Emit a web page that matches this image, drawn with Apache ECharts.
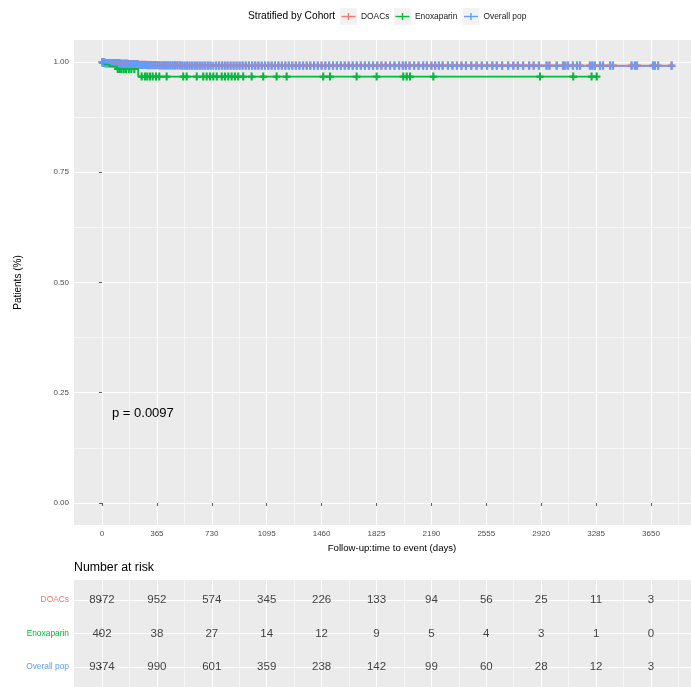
<!DOCTYPE html>
<html>
<head>
<meta charset="utf-8">
<script src="https://cdn.jsdelivr.net/npm/echarts@6/dist/echarts.min.js"></script>
<style>
  html, body { margin: 0; padding: 0; background: #ffffff; }
  #chart { width: 691px; height: 687px; }
</style>
</head>
<body>
<div id="chart"></div>
<script>
// ---- Kaplan–Meier estimates by cohort (time in days, survival proportion) ----
const groups = ['DOACs', 'Enoxaparin', 'Overall pop'];
const groupColors = ['#F8766D', '#00BA38', '#619CFF'];

const doacTime = [0, 5, 20, 60, 120, 180, 240, 300, 380, 520, 900];
const doacSurv = [1, 0.9987, 0.9978, 0.9973, 0.9964, 0.9954, 0.994, 0.9933, 0.9927, 0.9922, 0.9919];
const doacEnd = 3796;

const enoxTime = [0, 15, 50, 100, 241];
const enoxSurv = [1, 0.995, 0.99, 0.9845, 0.967];
const enoxEnd = 3290;

const overallTime = [0, 5, 20, 60, 120, 180, 240, 300, 380, 520, 900];
const overallSurv = [1, 0.9985, 0.9975, 0.997, 0.996, 0.995, 0.9935, 0.9928, 0.9922, 0.9918, 0.9915];
const overallEnd = 3796;

// Censoring times (days)
const enoxCensor = [105, 118, 130, 145, 160, 178, 195, 215, 264, 286, 301, 319, 337, 359, 381, 430,
  540, 563, 630, 673, 696, 718, 740, 763, 796, 818, 840, 862, 884, 906, 939, 995, 1072, 1161, 1228,
  1471, 1516, 1693, 1826, 2003, 2026, 2048, 2203, 2912, 3133, 3255, 3289];

const overallCensor = [2, 5, 8, 11, 14, 18, 21, 25, 29, 33, 37, 42, 47, 52, 57, 62, 68, 74, 80, 86,
  93, 100, 107, 114, 121, 129, 137, 145, 153, 162, 171, 180, 189, 198, 208, 218, 228, 238, 249, 260,
  271, 282, 294, 306, 318, 330, 343, 356, 369, 383, 397, 411, 425, 440, 455, 470, 485, 501, 517, 533,
  549, 565, 582, 599, 616, 633, 650, 668, 686, 704, 722, 740, 759, 778, 797, 816, 835, 855, 875, 895,
  915, 935, 956, 977, 998, 1019, 1040, 1062, 1084, 1106, 1128, 1150, 1173, 1196, 1219, 1242, 1265,
  1289, 1313, 1337, 1361, 1385, 1410, 1435, 1460, 1485, 1510, 1536, 1562, 1588, 1614, 1640, 1667,
  1694, 1721, 1748, 1775, 1802, 1830, 1858, 1886, 1915, 1945, 1975, 2000, 2020, 2045, 2075, 2105,
  2135, 2160, 2190, 2215, 2240, 2265, 2300, 2330, 2360, 2390, 2420, 2455, 2490, 2525, 2560, 2595,
  2625, 2660, 2700, 2735, 2765, 2800, 2840, 2870, 2905, 2956, 2975, 3023, 3065, 3080, 3098, 3131,
  3158, 3178, 3244, 3260, 3277, 3311, 3331, 3378, 3397, 3521, 3543, 3557, 3663, 3676, 3697, 3787];

// DOAC patients make up the overall cohort apart from the enoxaparin arm
const doacCensor = overallCensor.filter(t => enoxCensor.indexOf(t) < 0);

// ---- Axis ticks ----
const xTicks = [0, 365, 730, 1095, 1460, 1825, 2190, 2555, 2920, 3285, 3650];
const xMinor = [182.5, 547.5, 912.5, 1277.5, 1642.5, 2007.5, 2372.5, 2737.5, 3102.5, 3467.5, 3832.5];
const yTicks = [0, 0.25, 0.5, 0.75, 1];
const yMinor = [0.125, 0.375, 0.625, 0.875];

// ---- Number at risk table ----
const riskDays = [0, 365, 730, 1095, 1460, 1825, 2190, 2555, 2920, 3285, 3650];
const riskDoac = [8972, 952, 574, 345, 226, 133, 94, 56, 25, 11, 3];
const riskEnox = [402, 38, 27, 14, 12, 9, 5, 4, 3, 1, 0];
const riskOverall = [9374, 990, 601, 359, 238, 142, 99, 60, 28, 12, 3];

const pValueText = 'p = 0.0097';

// ---- helpers ----
const FONT = '"Liberation Sans", Arial, Helvetica, sans-serif';
const PLUS = 'path://M3.6,0H6.4V3.6H10V6.4H6.4V10H3.6V6.4H0V3.6H3.6Z';

function stepData(times, surv, end) {
  const d = times.map((t, i) => [t, surv[i]]);
  d.push([end, surv[surv.length - 1]]);
  return d;
}
function survAt(times, surv, t) {
  let s = surv[0];
  for (let i = 0; i < times.length; i++) if (times[i] <= t) s = surv[i];
  return s;
}
function censorData(censor, times, surv) {
  return censor.map(t => [t, survAt(times, surv, t)]);
}

const curves = [
  { time: doacTime, surv: doacSurv, end: doacEnd, censor: doacCensor },
  { time: enoxTime, surv: enoxSurv, end: enoxEnd, censor: enoxCensor },
  { time: overallTime, surv: overallSurv, end: overallEnd, censor: overallCensor }
];
const riskRows = [riskDoac, riskEnox, riskOverall];

const series = [];
curves.forEach((c, g) => {
  series.push({
    name: groups[g], type: 'line', xAxisIndex: 0, yAxisIndex: 0,
    step: 'end', showSymbol: false, silent: true,
    data: stepData(c.time, c.surv, c.end),
    lineStyle: { color: groupColors[g], width: 1.8 },
    itemStyle: { color: groupColors[g] }
  });
  series.push({
    name: groups[g], type: 'scatter', xAxisIndex: 0, yAxisIndex: 0,
    symbol: PLUS, symbolSize: [7.5, 8], silent: true,
    data: censorData(c.censor, c.time, c.surv),
    itemStyle: { color: groupColors[g], opacity: 1 }
  });
});

const tableData = [];
riskRows.forEach((row, g) => {
  row.forEach((n, i) => tableData.push([riskDays[i], g + 1, n]));
});
series.push({
  type: 'scatter', xAxisIndex: 2, yAxisIndex: 2, silent: true,
  symbolSize: 1, itemStyle: { color: 'rgba(0,0,0,0)' },
  data: tableData,
  label: {
    show: true, position: 'inside', formatter: p => String(p.value[2]),
    fontFamily: FONT, fontSize: 11.5, color: '#111111'
  }
});

function majorX(grid, showLabels) {
  return {
    type: 'value', gridIndex: grid, min: -186, max: 3916, position: 'bottom',
    axisLine: { show: false },
    axisTick: { show: showLabels, customValues: xTicks, length: 3, lineStyle: { color: '#333333', width: 0.8 } },
    axisLabel: { show: showLabels, customValues: xTicks, formatter: v => String(v),
      fontFamily: FONT, fontSize: 8, color: '#4D4D4D', margin: 5 },
    splitLine: { show: true, lineStyle: { color: '#ffffff', width: 1.1 } }
  };
}
function minorX(grid) {
  return {
    type: 'value', gridIndex: grid, min: -186, max: 3916, position: 'top',
    axisLine: { show: false },
    axisTick: { show: false, customValues: xMinor },
    axisLabel: { show: false, customValues: xMinor },
    splitLine: { show: true, lineStyle: { color: '#ffffff', width: 0.55 } }
  };
}

const option = {
  animation: false,
  backgroundColor: '#ffffff',
  grid: [
    { left: 74, right: 0, top: 40, height: 485, show: true, backgroundColor: '#EBEBEB', borderWidth: 0 },
    { left: 74, right: 0, top: 580, height: 111, show: true, backgroundColor: '#EBEBEB', borderWidth: 0 }
  ],
  xAxis: [majorX(0, true), minorX(0), majorX(1, false), minorX(1)],
  yAxis: [
    {
      type: 'value', gridIndex: 0, min: -0.05, max: 1.05, position: 'left',
      axisLine: { show: false },
      axisTick: { show: true, customValues: yTicks, length: 3, lineStyle: { color: '#333333', width: 0.8 } },
      axisLabel: { customValues: yTicks, formatter: v => Number(v).toFixed(2), fontFamily: FONT, fontSize: 8, color: '#4D4D4D', margin: 5 },
      splitLine: { show: true, lineStyle: { color: '#ffffff', width: 1.1 } }
    },
    {
      type: 'value', gridIndex: 0, min: -0.05, max: 1.05, position: 'right',
      axisLine: { show: false },
      axisTick: { show: false, customValues: yMinor },
      axisLabel: { show: false, customValues: yMinor },
      splitLine: { show: true, lineStyle: { color: '#ffffff', width: 0.55 } }
    },
    {
      type: 'value', gridIndex: 1, min: 0.4, max: 3.6, inverse: true, position: 'left',
      axisLine: { show: false },
      axisTick: { show: true, customValues: [1, 2, 3], length: 3, lineStyle: { color: '#333333', width: 0.8 } },
      axisLabel: {
        customValues: [1, 2, 3],
        formatter: v => groups[Math.round(Number(v)) - 1],
        color: v => groupColors[Math.round(Number(v)) - 1],
        fontFamily: FONT, fontSize: 8.4, margin: 5
      },
      splitLine: { show: true, lineStyle: { color: '#ffffff', width: 1.1 } }
    }
  ],
  series: series,
  graphic: (function () {
    const els = [];
    els.push({ type: 'text', left: 248, top: 11, z: 100,
      style: { text: 'Stratified by Cohort', font: '10.2px ' + FONT, fill: '#000000' } });
    const keyX = [340, 394, 462.5];
    groups.forEach((g, i) => {
      const x = keyX[i];
      els.push({ type: 'rect', z: 100, shape: { x: x, y: 8, width: 17, height: 17 }, style: { fill: '#F2F2F2' } });
      els.push({ type: 'line', z: 101, shape: { x1: x + 1.5, y1: 16.5, x2: x + 15.5, y2: 16.5 },
        style: { stroke: groupColors[i], lineWidth: 1.4 } });
      els.push({ type: 'line', z: 101, shape: { x1: x + 8.5, y1: 13, x2: x + 8.5, y2: 20 },
        style: { stroke: groupColors[i], lineWidth: 1.4 } });
      els.push({ type: 'text', z: 101, left: x + 21, top: 12.3,
        style: { text: g, font: '8.4px ' + FONT, fill: '#1a1a1a' } });
    });
    els.push({ type: 'text', z: 100, x: 18, y: 282.5, rotation: Math.PI / 2,
      style: { text: 'Patients (%)', font: '10px ' + FONT, fill: '#000000', align: 'center', verticalAlign: 'middle' } });
    els.push({ type: 'text', z: 100, x: 392, y: 548,
      style: { text: 'Follow-up:time to event (days)', font: '9.6px ' + FONT, fill: '#000000', align: 'center', verticalAlign: 'middle' } });
    els.push({ type: 'text', z: 100, x: 112, y: 413,
      style: { text: pValueText, font: '13px ' + FONT, fill: '#000000', align: 'left', verticalAlign: 'middle' } });
    els.push({ type: 'text', z: 100, x: 74, y: 568,
      style: { text: 'Number at risk', font: '12.3px ' + FONT, fill: '#000000', align: 'left', verticalAlign: 'middle' } });
    return els;
  })()
};

const chart = echarts.init(document.getElementById('chart'), null, { renderer: 'canvas' });
chart.setOption(option);
</script>
</body>
</html>
